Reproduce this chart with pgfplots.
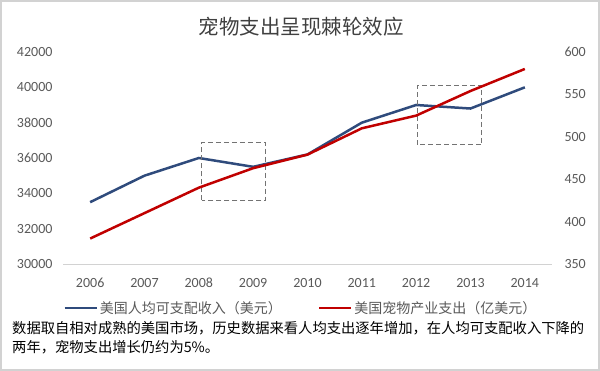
\documentclass[border=0pt]{standalone}
\usepackage{pgfplots}
\pgfplotsset{compat=1.18}
\usepackage{fontspec}
\setmainfont{Carlito}
\newfontfamily\cjk{Noto Sans CJK SC}
\definecolor{navy}{HTML}{2F4B7C}
\definecolor{redline}{HTML}{C00000}
\definecolor{txtgray}{HTML}{595959}
\definecolor{titlegray}{HTML}{404040}
\begin{document}
\begin{tikzpicture}[x=1pt,y=1pt]
\path[use as bounding box] (0,0) rectangle (600,371);
\draw[gray!35, line width=1.5pt] (1,1) rectangle (599,370);
\node[text=titlegray, font=\cjk\fontsize{20.5}{21}\selectfont] at (301,344) {宠物支出呈现棘轮效应};
\begin{axis}[
  at={(63pt,107pt)}, anchor=south west,
  scale only axis, width=489pt, height=212pt,
  xmin=2005.5, xmax=2014.5, ymin=30000, ymax=42000,
  xtick={2006,2007,...,2014}, ytick={30000,32000,...,42000},
  scaled ticks=false,
  axis x line*=bottom, axis y line*=left,
  y axis line style={draw=none},
  x axis line style={draw=gray!35, line width=0.8pt},
  major tick length=0pt,
  tick label style={text=txtgray, font=\fontsize{14}{14}\selectfont, /pgf/number format/1000 sep={}, /pgf/number format/assume math mode=true},
  yticklabel style={xshift=-7pt},
  xticklabel style={yshift=-10.5pt},
  clip=false,
]
\addplot[navy, line width=2.5pt] coordinates {
(2006,33500) (2007,35000) (2008,36000) (2009,35500) (2010,36200)
(2011,38000) (2012,39000) (2013,38800) (2014,40000)};
\draw[gray!90!black, dashed, line width=1.1pt, dash pattern=on 5pt off 3pt] (axis cs:2008.05,33600) rectangle (axis cs:2009.23,36870);
\draw[gray!90!black, dashed, line width=1.1pt, dash pattern=on 5pt off 3pt] (axis cs:2012.02,36740) rectangle (axis cs:2013.21,40090);
\end{axis}
\begin{axis}[
  at={(63pt,107pt)}, anchor=south west,
  scale only axis, width=489pt, height=212pt,
  xmin=2005.5, xmax=2014.5, ymin=350, ymax=600,
  ytick={350,400,...,600},
  axis y line*=right, axis x line=none,
  y axis line style={draw=none},
  major tick length=0pt,
  tick label style={text=txtgray, font=\fontsize{14}{14}\selectfont, /pgf/number format/assume math mode=true},
  yticklabel style={xshift=9pt},
  legend columns=2,
  legend style={draw=none, fill=none, at={(-0.006,-0.2075)}, anchor=west,
    font=\cjk\fontsize{14}{14}\selectfont, text=txtgray,
    /tikz/every even column/.append style={column sep=34pt},
    nodes={inner xsep=2pt}},
  legend cell align=left,
  legend image code/.code={\draw[#1] (0pt,0pt) -- (32pt,0pt);},
  clip=false,
]
\addlegendimage{navy, line width=2.5pt}
\addlegendentry{美国人均可支配收入（美元）}
\addplot[redline, line width=2.5pt] coordinates {
(2006,380) (2007,410) (2008,440) (2009,463) (2010,479)
(2011,510) (2012,525) (2013,554) (2014,580)};
\addlegendentry{美国宠物产业支出（亿美元）}
\end{axis}
\node[anchor=west, font=\cjk\fontsize{14.3}{15}\selectfont, inner sep=0pt] at (12,43) {数据取自相对成熟的美国市场，历史数据来看人均支出逐年增加，在人均可支配收入下降的};
\node[anchor=west, font=\cjk\fontsize{14.3}{15}\selectfont, inner sep=0pt] at (12,24) {两年，宠物支出增长仍约为5\%。};
\end{tikzpicture}
\end{document}
